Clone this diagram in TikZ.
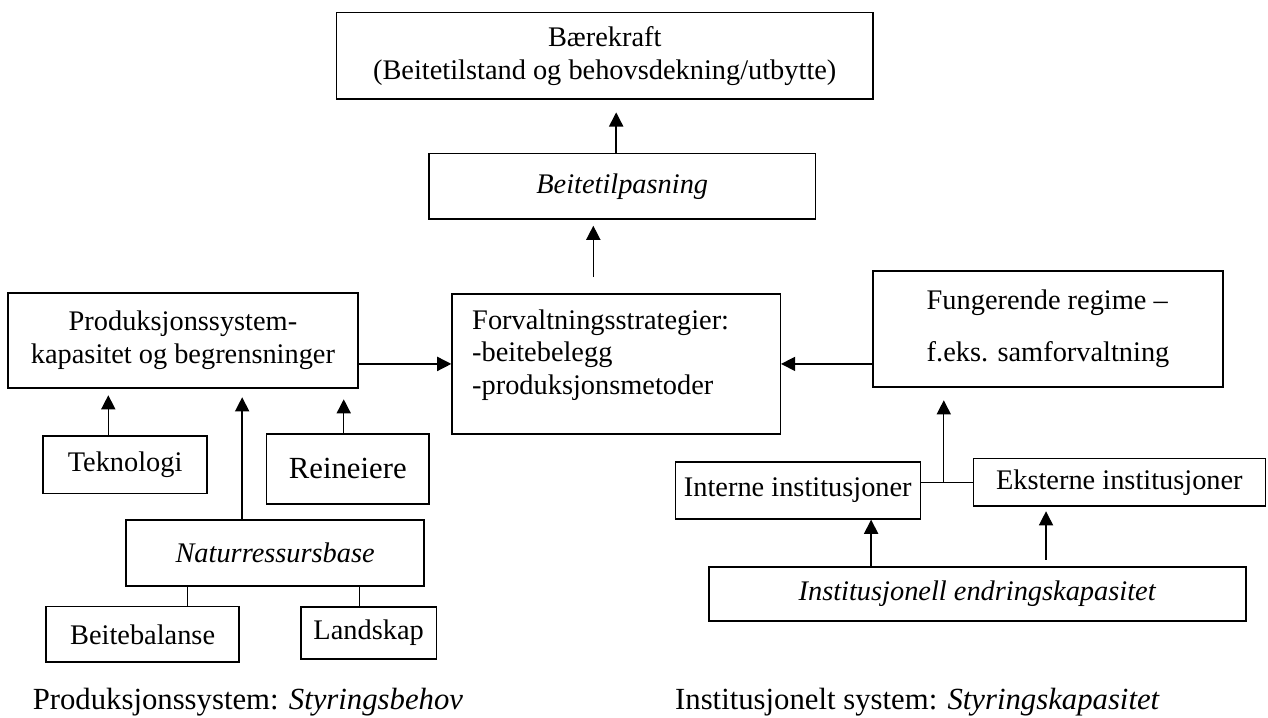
\documentclass[tikz,border=0pt]{standalone}
\usepackage{fontspec}
\setmainfont{Liberation Serif}
\usetikzlibrary{arrows.meta}

\begin{document}
\begin{tikzpicture}[
    box/.style={rectangle, draw, line width=0.6pt, inner sep=0pt, align=center},
    arr/.style={line width=0.6pt, -{Triangle[length=0.21cm, width=0.21cm]}},
    link/.style={line width=0.6pt},
    bigtext/.style={font=\fontsize{13}{15.6}\selectfont},
    font=\fontsize{12}{13.8}\selectfont
  ]
    \useasboundingbox (0,0) rectangle (18.85,10.67);

    % 上段のボックス
    \node[box, minimum width=7.98cm, minimum height=1.28cm] (baer) at (8.99, 9.84) {Bærekraft\\(Beitetilstand og behovsdekning/utbytte)};
    \node[box, minimum width=5.74cm, minimum height=0.97cm] (tilp) at (9.25, 7.90) {\textit{Beitetilpasning}};
    \node[box, align=left, text width=4.28cm, inner xsep=0.3cm, minimum height=2.08cm] (forv) at (9.16, 5.26) {Forvaltningsstrategier:\\-beitebelegg\\-produksjonsmetoder\rule[-3.6mm]{0pt}{0pt}};

    % 左側: 生産システム
    \node[box, minimum width=5.20cm, minimum height=1.41cm] (prod) at (2.72, 5.61) {Produksjonssystem-\\kapasitet og begrensninger};
    \node[box, minimum width=2.44cm, minimum height=0.86cm] (tek) at (1.86, 3.76) {Teknologi};
    \node[box, bigtext, minimum width=2.42cm, minimum height=1.04cm] (rein) at (5.17, 3.70) {Reineiere};
    \node[box, minimum width=4.43cm, minimum height=0.98cm] (natur) at (4.09, 2.45) {\textit{Naturressursbase}};
    \node[box, minimum width=2.87cm, minimum height=0.82cm] (bbal) at (2.12, 1.24) {Beitebalanse};
    \node[box, minimum width=2.01cm, minimum height=0.77cm] (land) at (5.48, 1.26) {Landskap};

    % 右側: 制度システム
    \node[box, align=left, minimum width=5.20cm, minimum height=1.72cm] (fung) at (15.58, 5.78) {Fungerende regime –\\[2.8mm]f.eks. samforvaltning};
    \node[box, minimum width=3.64cm, minimum height=0.85cm] (intern) at (11.86, 3.38) {Interne institusjoner};
    \node[box, minimum width=4.34cm, minimum height=0.70cm] (ekstern) at (16.64, 3.50) {Eksterne institusjoner};
    \node[box, minimum width=7.98cm, minimum height=0.80cm] (endr) at (14.53, 1.84) {\textit{Institusjonell endringskapasitet}};
    \coordinate (junc) at (14.03, 3.49);

    % 下のキャプション
    \node[bigtext, anchor=base west, inner sep=0pt] (capl) at (0.48, 0.12) {Produksjonssystem: \textit{Styringsbehov}};
    \node[bigtext, anchor=base west, inner sep=0pt] (capr) at (10.03, 0.12) {Institusjonelt system: \textit{Styringskapasitet}};

    % 矢印(上向き)
    \draw[arr, shorten >=0.19cm] ([xshift=-0.09cm]tilp.north) -- ([xshift=-0.09cm]tilp.north |- baer.south);
    \draw[arr, shorten <=0.24cm, shorten >=0.09cm] ([xshift=-0.34cm]forv.north) -- ([xshift=-0.34cm]forv.north |- tilp.south);
    \draw[arr, shorten >=0.10cm] ([xshift=-0.25cm]tek.north) -- ([xshift=-0.25cm]tek.north |- prod.south);
    \draw[arr, shorten >=0.13cm] ([xshift=-0.49cm]natur.north) -- ([xshift=-0.49cm]natur.north |- prod.south);
    \draw[arr, shorten >=0.16cm] ([xshift=-0.06cm]rein.north) -- ([xshift=-0.06cm]rein.north |- prod.south);
    \draw[arr, shorten >=0.19cm] (junc) -- (junc |- fung.south);
    \draw[arr] ([xshift=-1.58cm]endr.north) -- ([xshift=-1.58cm]endr.north |- intern.south);
    \draw[arr, shorten <=0.10cm, shorten >=0.07cm] ([xshift=1.02cm]endr.north) -- ([xshift=1.02cm]endr.north |- ekstern.south);

    % 矢印(横向き)
    \draw[arr] (prod.east |- forv.west) -- (forv.west);
    \draw[arr] (fung.west |- forv.east) -- (forv.east);

    % 線(矢印なし)
    \draw[link] (intern.east |- ekstern.west) -- (ekstern.west);
    \draw[link] ([xshift=-1.30cm]natur.south) -- ([xshift=-1.30cm]natur.south |- bbal.north);
    \draw[link] ([xshift=1.25cm]natur.south) -- ([xshift=1.25cm]natur.south |- land.north);
\end{tikzpicture}
\end{document}
